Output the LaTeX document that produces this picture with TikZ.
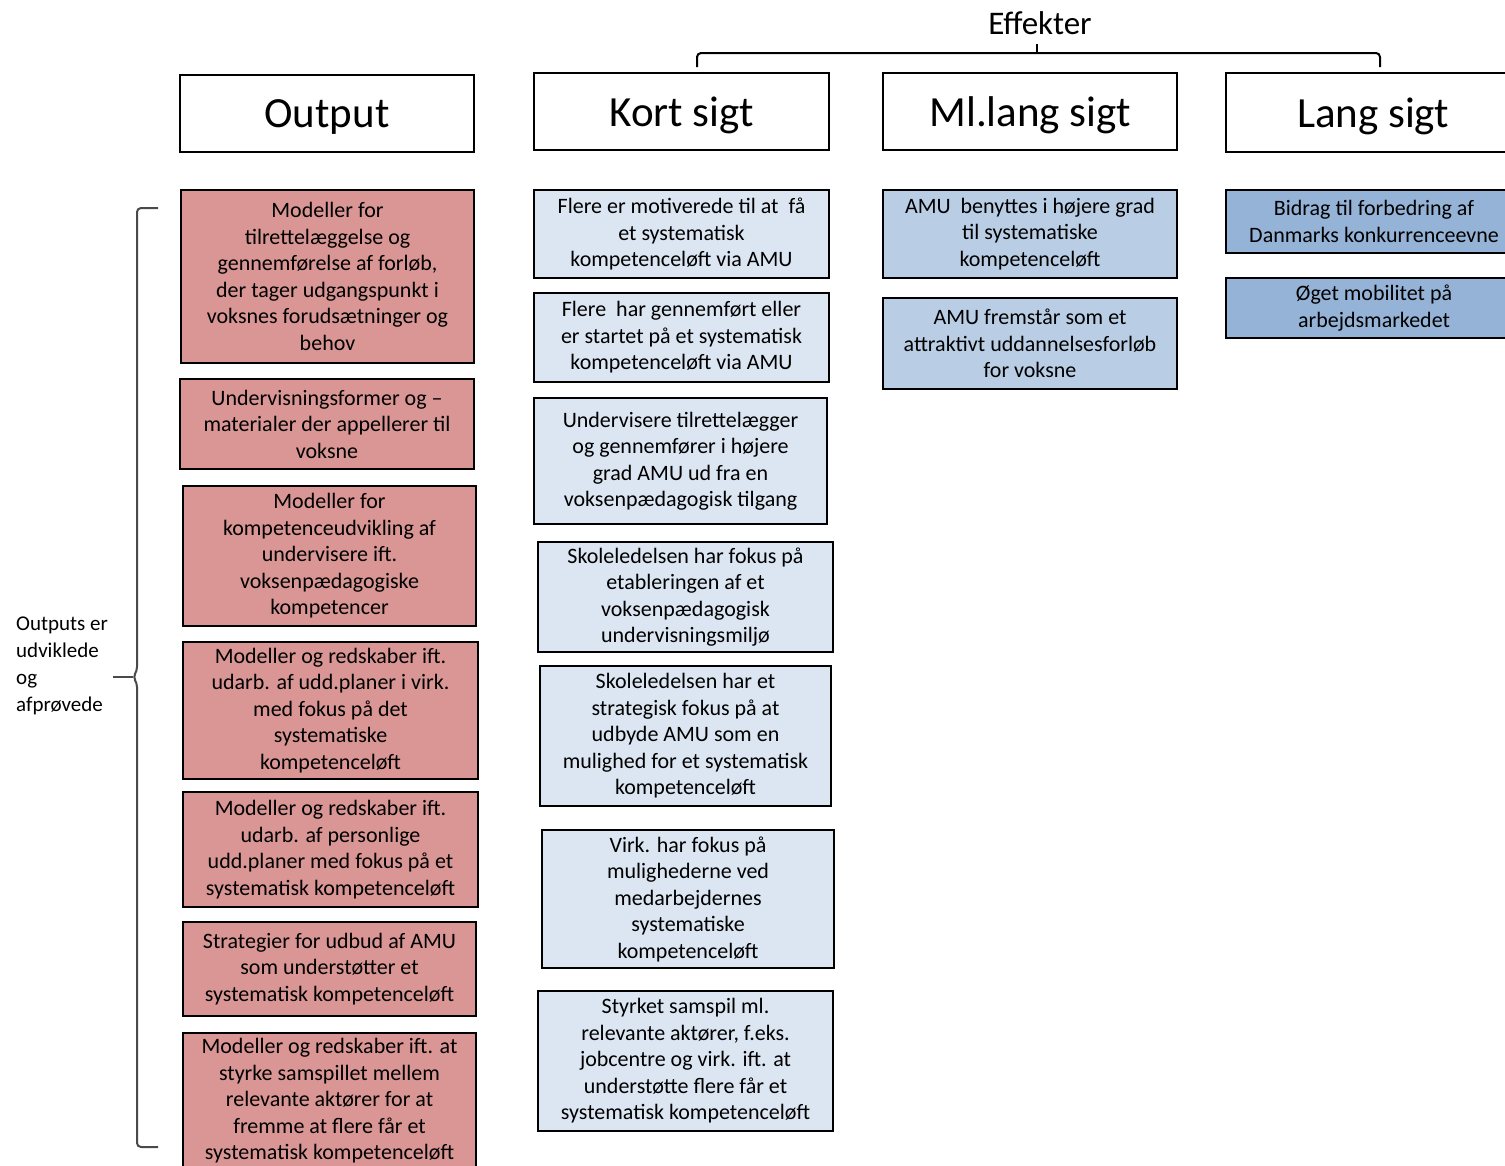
\documentclass[tikz,border=0pt]{standalone}
\usepackage{fontspec}
\setmainfont{Carlito}
\definecolor{redf}{HTML}{D99694}
\definecolor{lbf}{HTML}{DCE6F2}
\definecolor{mbf}{HTML}{B9CDE5}
\definecolor{dbf}{HTML}{95B3D7}
\definecolor{brc}{HTML}{4A4A4A}
\tikzset{
  boxbase/.style={draw=black, line width=2.6pt, inner sep=0pt, align=center, font=\fontsize{22}{26.5}\selectfont},
  hdr/.style={boxbase, fill=white, font=\fontsize{43}{50}\selectfont, text depth=0pt},
  redb/.style={boxbase, fill=redf},
  lblue/.style={boxbase, fill=lbf},
  mblue/.style={boxbase, fill=mbf},
  dblue/.style={boxbase, fill=dbf},
  bracel/.style={draw=brc, line width=2pt, rounded corners=4pt},
}
\newcommand\bx[7]{\node[#6, minimum width=#4pt-#2pt, minimum height=#5pt-#3pt] (#1) at ({(#2+#4)/2},{(#3+#5)/2}) {#7};}
\begin{document}
\begin{tikzpicture}[x=1pt,y=-1pt]
\path[use as bounding box] (0,0) rectangle (1505,1165);
\clip (0,0) rectangle (1505,1165);
\fill[white] (0,0) rectangle (1505,1165);

% headers
\bx{hout}{180}{75}{474}{152}{hdr}{Output}
\bx{hkort}{534}{73}{829}{150}{hdr}{Kort sigt}
\bx{hml}{883}{73}{1177}{150}{hdr}{Ml.lang sigt}
\bx{hlang}{1226}{73}{1520}{152}{hdr}{Lang sigt}

% Effekter brace
\node[font=\fontsize{33}{38}\selectfont] (eff) at (1040,23) {Effekter};
\coordinate (bl) at (697,67);
\coordinate (bm) at (1037,53);
\coordinate (br) at (1380,67);
\coordinate (bt) at (1037,44);
\draw[bracel, draw=black] (bl) |- (bm) -| (br);
\draw[draw=black, line width=2pt] (bm) -- (bt);

% Output column
\bx{r1}{181}{190}{474}{363}{redb}{Modeller for\\ tilrettelæggelse og\\ gennemførelse af forløb,\\ der tager udgangspunkt i\\ voksnes forudsætninger og\\ behov}
\bx{r2}{180}{379}{474}{469}{redb}{Undervisningsformer og –\\ materialer der appellerer til\\ voksne}
\bx{r3}{183}{486}{476}{626}{redb}{Modeller for\\ kompetenceudvikling af\\ undervisere ift.\\ voksenpædagogiske\\ kompetencer}
\bx{r4}{183}{642}{478}{779}{redb}{Modeller og redskaber ift.\\ udarb. af udd.planer i virk.\\ med fokus på det\\ systematiske\\ kompetenceløft}
\bx{r5}{183}{792}{478}{907}{redb}{Modeller og redskaber ift.\\ udarb. af personlige\\ udd.planer med fokus på et\\ systematisk kompetenceløft}
\bx{r6}{183}{922}{476}{1016}{redb}{Strategier for udbud af AMU\\ som understøtter et\\ systematisk kompetenceløft}
\bx{r7}{183}{1033}{476}{1169}{redb}{Modeller og redskaber ift. at\\ styrke samspillet mellem\\ relevante aktører for at\\ fremme at flere får et\\ systematisk kompetenceløft}

% Kort sigt column
\bx{k1}{534}{190}{829}{278}{lblue}{Flere er motiverede til at \ få\\ et systematisk\\ kompetenceløft via AMU}
\bx{k2}{534}{293}{829}{382}{lblue}{Flere \ har gennemført eller\\ er startet på et systematisk\\ kompetenceløft via AMU}
\bx{k3}{534}{398}{827}{524}{lblue}{Undervisere tilrettelægger\\ og gennemfører i højere\\ grad AMU ud fra en\\ voksenpædagogisk tilgang}
\bx{k4}{538}{542}{833}{652}{lblue}{Skoleledelsen har fokus på\\ etableringen af et\\ voksenpædagogisk\\ undervisningsmiljø}
\bx{k5}{540}{666}{831}{806}{lblue}{Skoleledelsen har et\\ strategisk fokus på at\\ udbyde AMU som en\\ mulighed for et systematisk\\ kompetenceløft}
\bx{k6}{542}{830}{834}{968}{lblue}{Virk. har fokus på\\ mulighederne ved\\ medarbejdernes\\ systematiske\\ kompetenceløft}
\bx{k7}{538}{991}{833}{1131}{lblue}{Styrket samspil ml.\\ relevante aktører, f.eks.\\ jobcentre og virk. ift. at\\ understøtte flere får et\\ systematisk kompetenceløft}

% Ml.lang sigt column
\bx{m1}{883}{190}{1177}{278}{mblue}{AMU \ benyttes i højere grad\\ til systematiske\\ kompetenceløft}
\bx{m2}{883}{298}{1177}{389}{mblue}{AMU fremstår som et\\ attraktivt uddannelsesforløb\\ for voksne}

% Lang sigt column
\bx{l1}{1226}{190}{1522}{253}{dblue}{Bidrag til forbedring af\\ Danmarks konkurrenceevne}
\bx{l2}{1226}{278}{1522}{338}{dblue}{Øget mobilitet på\\ arbejdsmarkedet}

% left brace and label
\node[anchor=west, align=left, inner sep=0pt, font=\fontsize{21}{27}\selectfont] (lbl) at (16,666) {Outputs er\\ udviklede\\ og\\ afprøvede};
\coordinate (lt) at (158,208);
\coordinate (lb) at (158,1147);
\coordinate (lm) at (133,677);
\coordinate (lp) at (113,677);
\draw[bracel] (lt) -| (137,671) -- (lm) -- (137,683) |- (lb);
\draw[draw=brc, line width=2pt] (lm) -- (lp);
\end{tikzpicture}
\end{document}
